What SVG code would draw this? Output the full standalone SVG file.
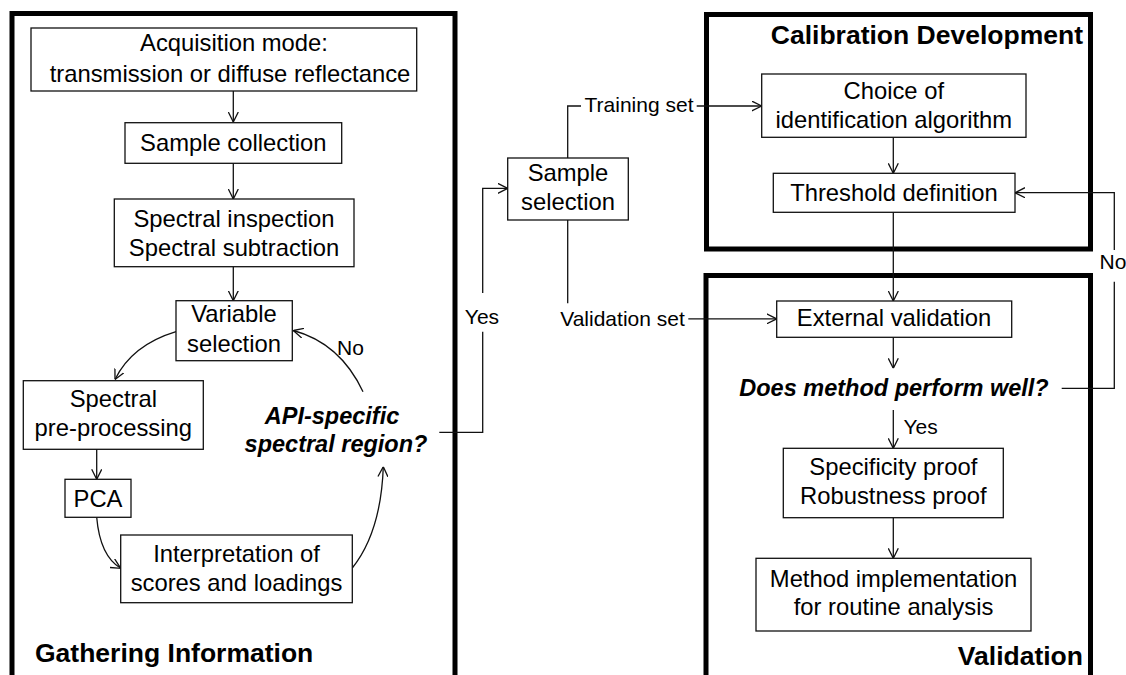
<svg xmlns="http://www.w3.org/2000/svg" width="1126" height="675" viewBox="0 0 1126 675">
<style>
.panel{fill:none;stroke:#000;stroke-width:5}
.box{fill:#fff;stroke:#111;stroke-width:1.3}
.t{font-family:"Liberation Sans",Arial,sans-serif;font-size:23.8px;fill:#000;text-anchor:middle}
.s{font-family:"Liberation Sans",Arial,sans-serif;font-size:21px;fill:#000;text-anchor:middle}
.b{font-family:"Liberation Sans",Arial,sans-serif;font-size:26.5px;font-weight:bold;fill:#000}
.q{font-family:"Liberation Sans",Arial,sans-serif;font-size:23.5px;font-weight:bold;font-style:italic;fill:#000;text-anchor:middle}
.c{fill:none;stroke:#111;stroke-width:1.3}
</style>
<defs>
<marker id="ah" viewBox="0 0 10 11" refX="10" refY="5.5" markerWidth="10" markerHeight="11" markerUnits="userSpaceOnUse" orient="auto">
<path d="M0,0.5 L10,5.5 L0,10.5" fill="none" stroke="#111" stroke-width="1.3"/>
</marker>
</defs>
<rect width="1126" height="675" fill="#fff"/>
<g id="panels">
<path class="panel" d="M12,680 V13.5 H455 V680"/>
<rect class="panel" x="706.5" y="14.5" width="384" height="234.5"/>
<path class="panel" d="M706,680 V275.5 H1090.5 V680"/>
<text class="b" x="35" y="662">Gathering Information</text>
<text class="b" x="1083" y="44" text-anchor="end">Calibration Development</text>
<text class="b" x="1083" y="665" text-anchor="end">Validation</text>
</g>
<g id="connectors">
<path class="c" d="M233.3,91 V122" marker-end="url(#ah)"/>
<path class="c" d="M233.3,163.3 V199" marker-end="url(#ah)"/>
<path class="c" d="M233.3,266.7 V300.7" marker-end="url(#ah)"/>
<path class="c" d="M176,331.7 Q132,345 115,379.5" marker-end="url(#ah)"/>
<path class="c" d="M363,391.7 Q340,343 293.3,330.5" marker-end="url(#ah)"/>
<path class="c" d="M96.7,449.3 V479.3" marker-end="url(#ah)"/>
<path class="c" d="M96.7,517.3 Q100,556 120.7,568.3" marker-end="url(#ah)"/>
<path class="c" d="M352.3,568 Q381,532 383.3,466.7" marker-end="url(#ah)"/>
<path class="c" d="M439.3,432.3 H482.7 V331.7 M482.7,293 V188.3 H507.7" marker-end="url(#ah)"/>
<path class="c" d="M567.7,158 V106 H581"/>
<path class="c" d="M696.7,106 H761.7" marker-end="url(#ah)"/>
<path class="c" d="M567.7,220 V303.3"/>
<path class="c" d="M688.3,318.8 H776.7" marker-end="url(#ah)"/>
<path class="c" d="M893.3,137.3 V173.3" marker-end="url(#ah)"/>
<path class="c" d="M893.3,212.3 V301" marker-end="url(#ah)"/>
<path class="c" d="M893.3,337.3 V368.3" marker-end="url(#ah)"/>
<path class="c" d="M893.3,410 V448.3" marker-end="url(#ah)"/>
<path class="c" d="M893.3,517.7 V558.3" marker-end="url(#ah)"/>
<path class="c" d="M1061.7,388.3 H1114.3 V281.7 M1114.3,250 V192.7 H1015" marker-end="url(#ah)"/>
<text class="s" x="350.5" y="355">No</text>
<text class="s" x="482" y="323.5">Yes</text>
<text class="s" x="1113" y="268.5">No</text>
<text class="s" x="903.5" y="433.5" style="text-anchor:start">Yes</text>
<text class="s" x="639" y="111.7">Training set</text>
<text class="s" x="622.5" y="325.5">Validation set</text>
</g>
<g id="n1"><rect class="box" x="31" y="28" width="385.7" height="63"/>
<text class="t" x="234" y="51">Acquisition mode:</text>
<text class="t" x="230" y="82">transmission or diffuse reflectance</text></g>
<g id="n2"><rect class="box" x="125" y="122.7" width="216.7" height="40.6"/>
<text class="t" x="233.3" y="151">Sample collection</text></g>
<g id="n3"><rect class="box" x="114.3" y="199" width="239.7" height="67.7"/>
<text class="t" x="234" y="227">Spectral inspection</text>
<text class="t" x="234" y="256">Spectral subtraction</text></g>
<g id="n4"><rect class="box" x="176" y="300.7" width="116.3" height="60"/>
<text class="t" x="234" y="322">Variable</text>
<text class="t" x="234" y="352">selection</text></g>
<g id="n5"><rect class="box" x="23.3" y="380.7" width="180" height="68.6"/>
<text class="t" x="113.3" y="407">Spectral</text>
<text class="t" x="113.3" y="435.5">pre-processing</text></g>
<g id="n6"><text class="q" x="332" y="423.5">API-specific</text>
<text class="q" x="336" y="452">spectral region?</text></g>
<g id="n7"><rect class="box" x="65" y="479.3" width="66" height="38"/>
<text class="t" x="98" y="507">PCA</text></g>
<g id="n8"><rect class="box" x="120.7" y="535" width="231.6" height="67.7"/>
<text class="t" x="236.5" y="562">Interpretation of</text>
<text class="t" x="236.5" y="590.5">scores and loadings</text></g>
<g id="n9"><rect class="box" x="507.7" y="158" width="120.6" height="62"/>
<text class="t" x="568" y="180.5">Sample</text>
<text class="t" x="568" y="210">selection</text></g>
<g id="n10"><rect class="box" x="761.7" y="74" width="264.3" height="63.3"/>
<text class="t" x="893.8" y="98.5">Choice of</text>
<text class="t" x="893.8" y="127.5">identification algorithm</text></g>
<g id="n11"><rect class="box" x="773.3" y="173.3" width="241.7" height="39"/>
<text class="t" x="894" y="200.5">Threshold definition</text></g>
<g id="n12"><rect class="box" x="776.7" y="301" width="235" height="36.3"/>
<text class="t" x="894" y="325.5">External validation</text></g>
<g id="n13"><text class="q" x="894" y="395.5">Does method perform well?</text></g>
<g id="n14"><rect class="box" x="783.3" y="448.3" width="220" height="69.4"/>
<text class="t" x="893.3" y="474.5">Specificity proof</text>
<text class="t" x="893.3" y="503.5">Robustness proof</text></g>
<g id="n15"><rect class="box" x="756" y="558.3" width="275" height="72.7"/>
<text class="t" x="893.5" y="586.5">Method implementation</text>
<text class="t" x="893.5" y="614.5">for routine analysis</text></g>
</svg>
